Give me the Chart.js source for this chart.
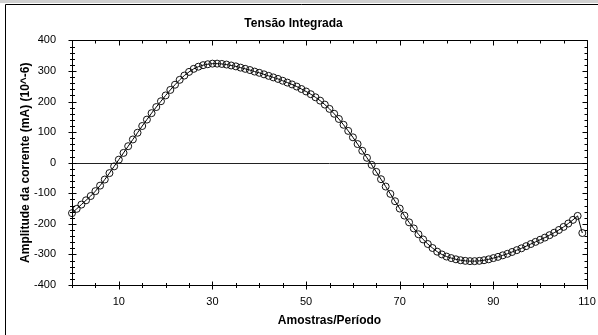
<!DOCTYPE html>
<html>
<head>
<meta charset="utf-8">
<script src="https://cdn.jsdelivr.net/npm/chart.js@4.4.0/dist/chart.umd.min.js"></script>
<style>
  html, body { margin: 0; padding: 0; background: #fff; }
  #wrap { width: 598px; height: 335px; }
</style>
</head>
<body>
<div id="wrap"><canvas id="chart" width="598" height="335"></canvas></div>
<script>
// amostras (eixo x) e amplitude
const samples = Array.from({ length: 110 }, (_, i) => i);
const amplitude = [
  -165, -151, -137, -123, -109, -93, -75, -55, -34, -12,
  10, 32, 54, 76, 98, 120, 141, 162, 182, 201,
  220, 238, 255, 271, 285, 297, 307, 314, 319, 322,
  324, 324, 323, 321, 318, 315, 311, 307, 303, 298,
  294, 289, 284, 279, 274, 268, 262, 256, 249, 241,
  233, 224, 214, 203, 190, 176, 160, 143, 124, 104,
  83, 61, 39, 16, -7, -30, -54, -78, -102, -126,
  -150, -173, -195, -215, -234, -251, -266, -279, -291, -300,
  -307, -312, -316, -319, -321, -322, -322, -321, -319, -316,
  -312, -308, -303, -298, -292, -286, -280, -273, -266, -259,
  -252, -245, -237, -229, -220, -210, -199, -187, -174, -230
];
const xLabels = [10, 30, 50, 70, 90, 110];
const xRange = [0, 110];
const yRange = [-400, 400];
const yMajor = 100, yMinor = 20, xMinor = 5;

Chart.defaults.font.family = "'Liberation Sans', Arial, sans-serif";
Chart.defaults.color = '#000';

// moldura, linha do zero e marcas de escala estilo Excel
const axisFrame = {
  id: 'axisFrame',
  beforeDraw(chart) {
    const c = chart.ctx;
    c.save();
    c.fillStyle = '#d0d0d0';
    c.fillRect(0, 0, chart.width, 3);
    c.strokeStyle = '#000';
    c.lineWidth = 1;
    c.beginPath();
    c.moveTo(5.5, chart.height);
    c.lineTo(5.5, 4.5);
    c.lineTo(chart.width, 4.5);
    c.stroke();
    c.restore();
  },
  beforeDatasetsDraw(chart) {
    const { ctx: c, chartArea: a, scales: { y } } = chart;
    const py = Math.round(y.getPixelForValue(0)) + 0.5;
    c.save();
    c.strokeStyle = '#222';
    c.lineWidth = 1;
    c.beginPath();
    c.moveTo(a.left, py);
    c.lineTo(a.right, py);
    c.stroke();
    c.restore();
  },
  afterDraw(chart) {
    const { ctx: c, chartArea: a, scales: { x, y } } = chart;
    const L = Math.round(a.left) + 0.5, R = Math.round(a.right) + 0.5;
    const T = Math.round(a.top) + 0.5, B = Math.round(a.bottom) + 0.5;
    c.save();
    c.strokeStyle = '#000';
    c.lineWidth = 1;
    c.beginPath();
    c.rect(L, T, R - L, B - T);
    for (let v = yRange[0]; v <= yRange[1]; v += yMinor) {
      const py = Math.round(y.getPixelForValue(v)) + 0.5;
      const major = v % yMajor === 0;
      const l = major ? 4 : 2.5;
      c.moveTo(L - l, py); c.lineTo(L + l, py);
      c.moveTo(R - (major ? 5 : 3), py); c.lineTo(R, py);
    }
    for (let v = xRange[0]; v <= xRange[1]; v += xMinor) {
      const px = Math.round(x.getPixelForValue(v)) + 0.5;
      const major = xLabels.includes(v);
      const l = major ? 4 : 2.5;
      c.moveTo(px, B - l); c.lineTo(px, B + l);
      c.moveTo(px, T); c.lineTo(px, T + (major ? 5 : 3));
    }
    c.stroke();
    c.restore();
  }
};

new Chart(document.getElementById('chart'), {
  type: 'line',
  data: {
    labels: samples,
    datasets: [{
      data: amplitude,
      borderColor: '#000',
      borderWidth: 1,
      pointStyle: 'circle',
      pointRadius: 3.5,
      pointBorderWidth: 1,
      pointBorderColor: '#111',
      pointBackgroundColor: 'rgba(255,255,255,0)',
      tension: 0,
      clip: 6
    }]
  },
  options: {
    responsive: false,
    animation: false,
    devicePixelRatio: 1,
    layout: { padding: { left: 0, right: 11, top: 0, bottom: 0 } },
    plugins: {
      legend: { display: false },
      tooltip: { enabled: false },
      title: {
        display: true,
        text: 'Tensão Integrada',
        color: '#000',
        font: { size: 12, weight: 'bold' },
        padding: { top: 16, bottom: 10 }
      }
    },
    scales: {
      x: {
        type: 'linear',
        min: xRange[0],
        max: xRange[1],
        grid: { display: false },
        border: { display: false },
        ticks: {
          stepSize: xMinor,
          autoSkip: false,
          maxRotation: 0,
          padding: 2,
          font: { size: 11 },
          color: '#000',
          callback: v => xLabels.includes(v) ? String(v) : ''
        },
        title: {
          display: true,
          text: 'Amostras/Período',
          color: '#000',
          font: { size: 12, weight: 'bold' },
          padding: { top: 0, bottom: 7 }
        },
        afterFit(s) { s.height = 50; s.paddingLeft = 0; s.paddingRight = 0; }
      },
      y: {
        min: yRange[0],
        max: yRange[1],
        grid: { display: false },
        border: { display: false },
        ticks: {
          stepSize: yMajor,
          padding: 8,
          font: { size: 11 },
          color: '#000'
        },
        title: {
          display: true,
          text: 'Amplitude da corrente (mA) (10^-6)',
          color: '#000',
          font: { size: 12, weight: 'bold' },
          padding: { top: 18, bottom: 0 }
        },
        afterFit(s) { s.width = 72; s.paddingTop = 0; s.paddingBottom = 0; }
      }
    }
  },
  plugins: [axisFrame]
});
</script>
</body>
</html>
